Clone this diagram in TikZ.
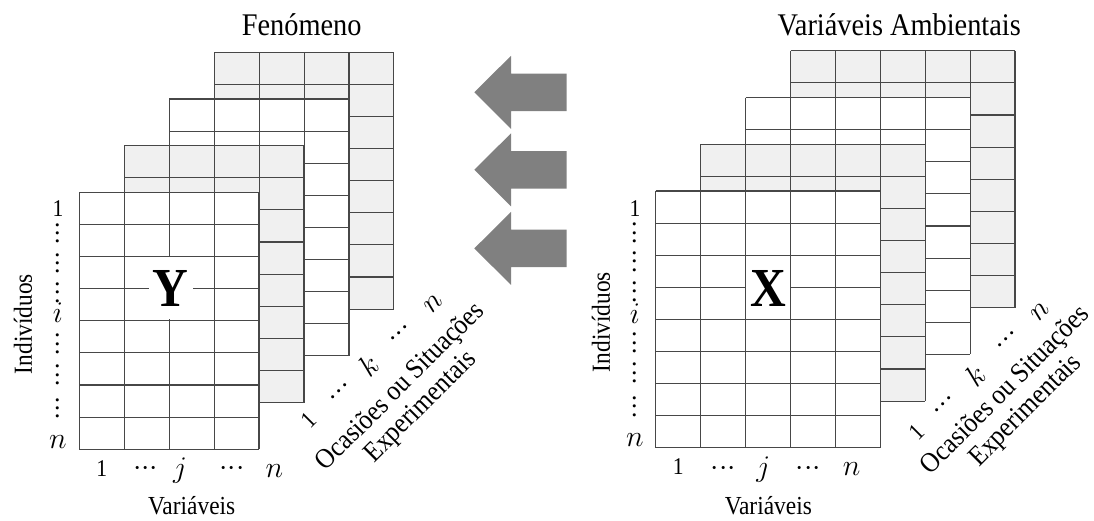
\RequirePackage{fix-cm}
\documentclass[tikz,border=0pt]{standalone}
\usepackage{fontspec}
\setmainfont[FakeStretch=0.9]{Liberation Serif}

% grid sizes of every matrix layer (1 unit = 1pt)
\def\colw{44.9}
\def\rowh{32.1}

% one matrix layer: #1,#2 top-left corner, #3 columns, #4 fill colour
\newcommand\matlayer[4]{%
  \fill[#4] (#1,#2) rectangle ++(#3*\colw,8*\rowh);
  \foreach \c in {0,...,#3}{\draw[gridline] (#1+\c*\colw,#2) -- ++(0,8*\rowh);}
  \foreach \r in {0,...,8}{\draw[gridline] (#1,#2+\r*\rowh) -- ++(#3*\colw,0);}
}

% left-pointing block arrow centred at height #1
\newcommand\blockarrow[1]{%
  \fill[arrowfill] (474.3,#1) -- (511,#1-36.5) -- (511,#1-18.8) -- (566.7,#1-18.8)
    -- (566.7,#1+18.8) -- (511,#1+18.8) -- (511,#1+36.5) -- cycle;
}

% three centred dots, tightly spaced
\newcommand\threedots{$\mathord{\cdot}\mathord{\cdot}\mathord{\cdot}$}

\begin{document}
\begin{tikzpicture}[x=1pt,y=-1pt,
  gridline/.style={draw=black!72, line width=1.1pt},
  arrowfill/.style={fill=black!50},
  title/.style={font=\fontsize{31.5}{33}\selectfont, anchor=base},
  axislabel/.style={font=\fontsize{26}{28}\selectfont, inner sep=0pt},
  idx/.style={font=\fontsize{30}{30}\selectfont, inner sep=0pt},
  idxnum/.style={font=\fontsize{24}{24}\selectfont, inner sep=0pt},
  dotsh/.style={font=\fontsize{30}{30}\selectfont, inner sep=0pt, anchor=mid},
  dotsv/.style={dotsh, rotate=90},
  diag/.style={idx, rotate=45},
  diagnum/.style={idxnum, rotate=45},
  diagdots/.style={dotsh, rotate=45},
  occlabel/.style={font=\fontsize{28}{28.5}\selectfont, align=center, rotate=45, inner sep=0pt},
  bigletter/.style={font=\fontsize{55}{55}\selectfont\bfseries, fill=white,
    minimum width=44pt, minimum height=62pt, inner sep=0pt}
]
\useasboundingbox (0,0) rectangle (1094,520);
\colorlet{layergrey}{black!6}

% ---------- phenomenon stack (Y) ----------
\matlayer{214.3}{52.3}{4}{layergrey}
\matlayer{169.4}{99}{4}{white}
\matlayer{124.4}{145.7}{4}{layergrey}
\matlayer{79.4}{192.4}{4}{white}
\node[bigletter] (Y) at (170.7,288) {Y};

\node[title] (fen) at (301.7,35.7) {Fenómeno};
\node[axislabel, rotate=90] (indY) at (23,324) {Indivíduos};
\node[axislabel] (varY) at (191.7,506) {Variáveis};

% row indices
\node[idxnum] (rY1) at (58,209) {1};
\node[dotsv] (rYd1) at (62.5,233.3) {\threedots};
\node[dotsv] (rYd2) at (62.5,263.3) {\threedots};
\node[dotsv] (rYd3) at (62.5,292.5) {\threedots};
\node[idx] (rYi) at (58,313) {$i$};
\node[dotsv] (rYd4) at (62.5,344) {\threedots};
\node[dotsv] (rYd5) at (62.5,375) {\threedots};
\node[dotsv] (rYd6) at (62.5,408.3) {\threedots};
\node[idx] (rYn) at (58,441.7) {$n$};

% column indices
\node[idxnum] (cY1) at (101.7,469) {1};
\node[dotsh] (cYd1) at (145.7,473) {\threedots};
\node[idx] (cYj) at (180,471) {$j$};
\node[dotsh] (cYd2) at (232,473) {\threedots};
\node[idx] (cYn) at (274.5,471) {$n$};

% occasion indices
\node[diagnum] (oY1) at (308.3,420) {1};
\node[diagdots] (oYd1) at (343.2,394.9) {\threedots};
\node[diag] (oYk) at (368.3,365) {$k$};
\node[diagdots] (oYd2) at (403.2,336.5) {\threedots};
\node[diag] (oYn) at (433.3,303.3) {$n$};
\node[occlabel] (occY) at (411,397.5) {Ocasiões ou Situações\\Experimentais};

% ---------- arrows ----------
\blockarrow{92.3}
\blockarrow{169.8}
\blockarrow{248.4}

% ---------- environmental variables stack (X) ----------
\matlayer{790.5}{50.8}{5}{layergrey}
\matlayer{745.6}{97.6}{5}{white}
\matlayer{700.6}{144.3}{5}{layergrey}
\matlayer{655.7}{191}{5}{white}
\node[bigletter] (X) at (767.9,288) {X};

\node[title] (amb) at (899.2,35.7) {Variáveis Ambientais};
\node[axislabel, rotate=90] (indX) at (601,322) {Indivíduos};
\node[axislabel] (varX) at (768.3,506) {Variáveis};

\node[idxnum] (rX1) at (635,208.3) {1};
\node[dotsv] (rXd1) at (639.5,233) {\threedots};
\node[dotsv] (rXd2) at (639.5,261.7) {\threedots};
\node[dotsv] (rXd3) at (639.5,291.7) {\threedots};
\node[idx] (rXi) at (635,313.3) {$i$};
\node[dotsv] (rXd4) at (639.5,343) {\threedots};
\node[dotsv] (rXd5) at (639.5,373) {\threedots};
\node[dotsv] (rXd6) at (639.5,406.7) {\threedots};
\node[idx] (rXn) at (635,440) {$n$};

\node[idxnum] (cX1) at (678.3,467) {1};
\node[dotsh] (cXd1) at (723.3,472.8) {\threedots};
\node[idx] (cXj) at (763.3,470) {$j$};
\node[dotsh] (cXd2) at (808.3,472.8) {\threedots};
\node[idx] (cXn) at (851.7,469) {$n$};

\node[diagnum] (oX1) at (916.7,431.7) {1};
\node[diagdots] (oXd1) at (946.5,408.2) {\threedots};
\node[diag] (oXk) at (975,375) {$k$};
\node[diagdots] (oXd2) at (1009.9,343.2) {\threedots};
\node[diag] (oXn) at (1040,311.7) {$n$};
\node[occlabel] (occX) at (1016,401) {Ocasiões ou Situações\\Experimentais};
\end{tikzpicture}
\end{document}
